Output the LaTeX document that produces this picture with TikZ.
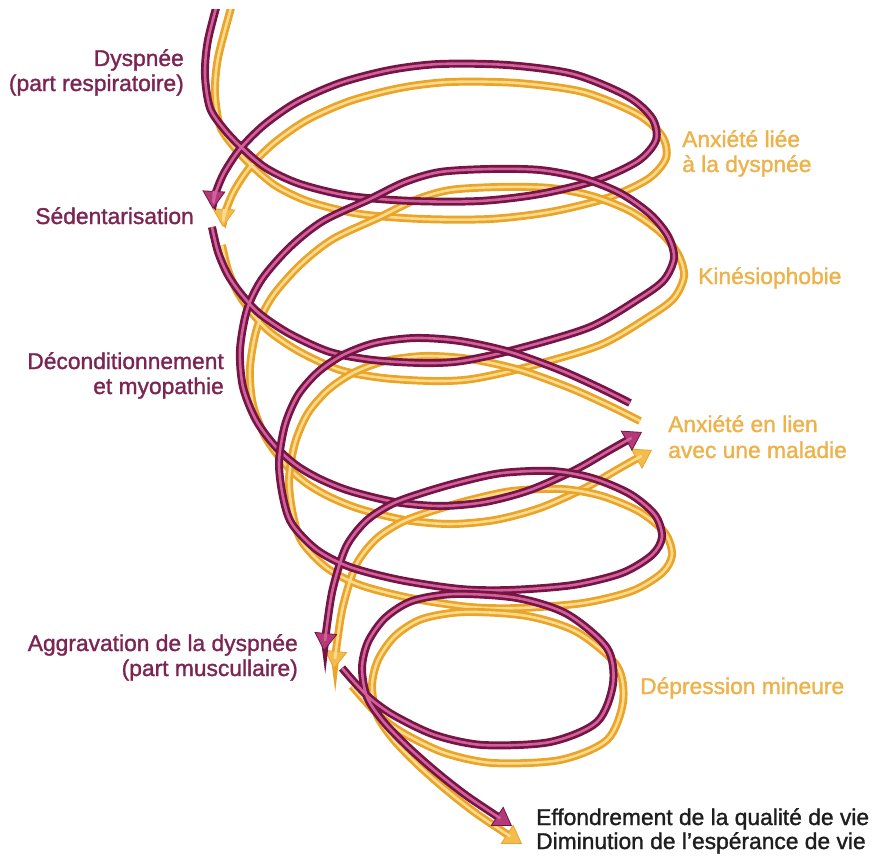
\documentclass[tikz,border=0pt]{standalone}
\usepackage{fontspec}
\setmainfont{Liberation Sans}
\newfontfamily\labfont{Liberation Sans}[FakeBold=1.3]
\usetikzlibrary{arrows.meta}
\definecolor{pdark}{HTML}{741543}
\definecolor{pmid}{HTML}{B23A78}
\definecolor{plight}{HTML}{D2609C}
\definecolor{ydark}{HTML}{E9A429}
\definecolor{ymid}{HTML}{F2BC4E}
\definecolor{ylight}{HTML}{FBDA8C}
\definecolor{tpurple}{HTML}{7C2553}
\definecolor{tyellow}{HTML}{EDB24A}
\definecolor{tblack}{HTML}{1E1E1E}
\def\SegA{plot[smooth] coordinates {(221,-10) (208,40) (205,75) (210,108) (224,129) (241,147) (266,168) (300,184) (350,196) (413,201) (480,201) (540,194) (597,180) (638,161) (656,140) (652,118) (627,96) (573,74) (507,65) (440,64) (390,70) (340,83) (297,102) (264,125) (240,149) (224,173) (215,195) (213,209)}}
\def\SegB{plot[smooth] coordinates {(212,227) (218,252) (228,275) (242,295) (260,314) (290,334) (330,352) (373,360) (423,363) (462,361) (517,349) (590,327) (640,298) (664,280) (674,258) (668,236) (650,214) (620,193) (582,178) (540,170) (490,169) (440,172) (405,182) (370,199) (323,221) (290,247) (262,279) (247,310) (240,350) (243,387) (256,420) (275,446) (296,465) (320,479) (350,491) (395,502) (440,506) (485,502) (530,490) (575,470) (610,450) (642,432)}}
\def\SegC{plot[smooth] coordinates {(630,403) (600,388) (560,370) (510,352) (460,341) (415,338) (375,343) (343,355) (318,372) (298,395) (285,425) (279,462) (283,497) (292,524) (317,550) (350,567) (400,580) (460,589) (510,590) (573,585) (622,573) (652,555) (662,537) (655,515) (630,494) (592,478) (552,471) (502,473) (460,482) (422,493) (392,504) (366,521) (346,547) (333,588) (327,625) (324,651)}}
\def\SegD{plot[smooth] coordinates {(342,668) (356,684) (372,700) (395,716) (435,735) (483,745) (550,742) (597,722) (613,684) (607,648) (567,614) (517,598) (455,594) (412,601) (385,618) (368,642) (362,668) (367,697) (383,721) (406,745) (434,770) (467,796) (512,826)}}
\begin{document}
\begin{tikzpicture}[x=1pt,y=-1pt,
  ptube/.style={line width=8pt, draw=pdark, -{Triangle[width=23pt,length=18pt,line width=0.8pt,fill=pmid]}},
  phl/.style={line width=2.6pt, draw=plight, shorten >=18pt},
  ytube/.style={line width=8pt, draw=ydark, -{Triangle[width=23pt,length=18pt,line width=0.8pt,fill=ymid]}},
  yhl/.style={line width=2.6pt, draw=ylight, shorten >=18pt},
  lab/.style={font=\labfont\fontsize{22.8}{25}\selectfont, inner sep=0pt},
  plab/.style={lab, text=tpurple, anchor=base east},
  ylab/.style={lab, text=tyellow, anchor=base west},
  blab/.style={lab, text=tblack, anchor=base west}]
\useasboundingbox (0,0) rectangle (874,859);
\fill[white] (0,0) rectangle (874,859);
\begin{scope}
\clip (0,10) rectangle (874,859);
% yellow tubes (offset copies)
\begin{scope}[shift={(10,18)}]
\draw[ytube] \SegA; \draw[yhl] \SegA;
\draw[ytube] \SegB; \draw[yhl] \SegB;
\draw[ytube] \SegC; \draw[yhl] \SegC;
\draw[ytube] \SegD; \draw[yhl] \SegD;
\end{scope}
% purple tubes
\draw[ptube] \SegA; \draw[phl] \SegA;
\draw[ptube] \SegB; \draw[phl] \SegB;
\draw[ptube] \SegC; \draw[phl] \SegC;
\draw[ptube] \SegD; \draw[phl] \SegD;
\end{scope}
% labels
\node[plab] (dysA) at (184,66) {Dyspnée};
\node[plab] (dysB) at (184,91) {(part respiratoire)};
\node[plab] (sed) at (194,224) {Sédentarisation};
\node[plab] (decA) at (224,369) {Déconditionnement};
\node[plab] (decB) at (224,394) {et myopathie};
\node[plab] (aggA) at (298,651) {Aggravation de la dyspnée};
\node[plab] (aggB) at (298,676) {(part muscullaire)};
\node[ylab] (anxA) at (682,147) {Anxiété liée};
\node[ylab] (anxB) at (682,172) {à la dyspnée};
\node[ylab] (kin) at (698,284) {Kinésiophobie};
\node[ylab] (malA) at (668,432) {Anxiété en lien};
\node[ylab] (malB) at (668,458) {avec une maladie};
\node[ylab] (dep) at (640,694) {Dépression mineure};
\node[blab] (effA) at (536,825) {Effondrement de la qualité de vie};
\node[blab] (effB) at (536,849) {Diminution de l’espérance de vie};
\end{tikzpicture}
\end{document}
